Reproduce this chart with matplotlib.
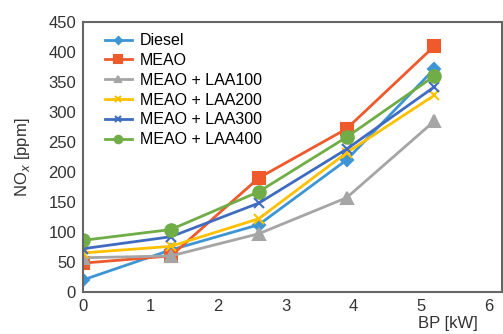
import matplotlib
matplotlib.use('Agg')
import matplotlib.pyplot as plt

plt.rcParams['font.family'] = ['Liberation Sans', 'DejaVu Sans']

# Data
bp = [0, 1.3, 2.6, 3.9, 5.2]
diesel = [20, 70, 112, 220, 372]
meao = [48, 60, 190, 272, 410]
laa100 = [57, 60, 97, 157, 285]
laa200 = [65, 76, 122, 232, 328]
laa300 = [72, 92, 148, 238, 342]
laa400 = [86, 104, 167, 258, 360]

labels = ['Diesel', 'MEAO', 'MEAO + LAA100', 'MEAO + LAA200',
          'MEAO + LAA300', 'MEAO + LAA400']
series = [diesel, meao, laa100, laa200, laa300, laa400]
colors = ['#3D95D3', '#EE5A2B', '#A5A5A5', '#FFC000', '#3F6CC0', '#70AD47']
markers = ['D', 's', '^', 'x', 'x', 'o']
msizes = [6, 9, 8, 7, 7, 9]

fig = plt.figure(figsize=(5.03, 3.34), dpi=100)
ax = fig.add_axes([0.165, 0.126, 0.833, 0.808])

for vals, lab, c, m, ms in zip(series, labels, colors, markers, msizes):
    ax.plot(bp, vals, color=c, marker=m, markersize=ms, linewidth=2,
            markeredgewidth=1.5, label=lab)

ax.set_xlim(0, 6.2)
ax.set_ylim(0, 450)
ax.set_xticks(range(0, 7))
ax.set_yticks(range(0, 451, 50))
ax.tick_params(length=0, labelsize=12, colors='#333333', pad=5)
for s in ax.spines.values():
    s.set_color('#666666')
    s.set_linewidth(1.5)

ax.set_ylabel('NO$_x$ [ppm]', fontsize=12, color='#333333', labelpad=12)
ax.text(0.87, -0.088, 'BP [kW]', transform=ax.transAxes, fontsize=12,
        color='#333333', ha='center', va='top')

ax.legend(loc='upper left', frameon=False, fontsize=11.5, handlelength=1.7,
          handletextpad=0.5, labelspacing=0.3, borderaxespad=0.3,
          markerscale=0.6, bbox_to_anchor=(0.025, 1.0))

fig.savefig('out.png', dpi=100)
